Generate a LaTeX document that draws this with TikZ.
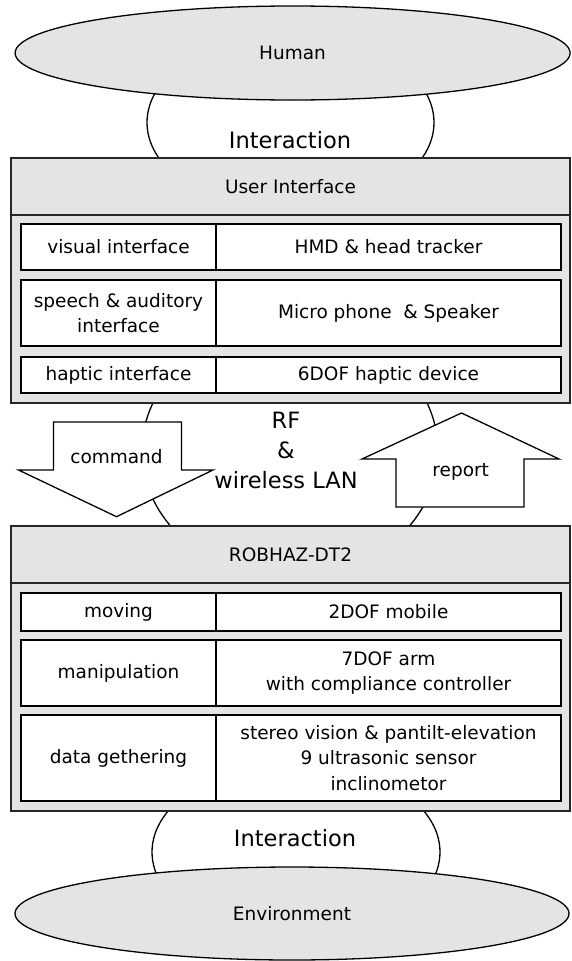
\documentclass[tikz,border=0pt]{standalone}
\usepackage{fontspec}
\setmainfont{DejaVu Sans}
\usetikzlibrary{shapes.geometric,positioning}

\definecolor{panelgray}{RGB}{228,228,228}
\newcommand{\smalltxt}{\fontsize{18.5}{25.5}\selectfont}
\newcommand{\bigtxt}{\fontsize{22.5}{30}\selectfont}

\tikzset{
	ring/.style={ellipse, draw=black, line width=1.3pt, fill=white, inner sep=0pt},
	blob/.style={ellipse, draw=black, line width=1.3pt, fill=panelgray, font=\smalltxt},
	panel/.style={rectangle, draw=black!85, line width=1.4pt, fill=panelgray, anchor=north west,
		minimum width=559pt, inner sep=0pt, outer sep=0pt, font=\smalltxt},
	cell/.style={rectangle, draw=black, line width=1.8pt, fill=white, align=center,
		inner sep=0pt, outer sep=0pt, font=\smalltxt},
	leftcell/.style={cell, minimum width=195pt},
	rightcell/.style={cell, minimum width=345pt, anchor=west},
	bigarrow/.style={draw=black, line width=1.3pt, fill=white, line join=miter},
}

\begin{document}
\begin{tikzpicture}[x=1pt, y=-1pt]
	\useasboundingbox (0,0) rectangle (571,961);

	% links behind the blocks
	\node[ring, minimum width=296pt, minimum height=254pt] (link) at (290,451) {};
	\node[ring, minimum width=287pt, minimum height=178pt] (toplink) at (290.5,122.5) {};
	\node[ring, minimum width=288pt, minimum height=178pt] (botlink) at (296,852) {};

	\node[blob, minimum width=555pt, minimum height=94pt] (human) at (292.6,53) {Human};
	\node[blob, minimum width=554pt, minimum height=93pt] (env) at (292,913.5) {Environment};

	% user interface
	\node[panel, minimum height=57pt] (uihead) at (11,158) {User Interface};
	\node[panel, minimum height=188pt] (uibody) at (11,215) {};

	\node[leftcell, minimum height=46pt, anchor=north west] (visual) at (21,224) {visual interface};
	\node[rightcell, minimum height=46pt] (hmd) at (visual.east) {HMD \& head tracker};
	\node[leftcell, minimum height=66pt, below=10pt of visual] (speech) {speech \& auditory\\interface};
	\node[rightcell, minimum height=66pt] (mic) at (speech.east) {Micro phone~ \& Speaker};
	\node[leftcell, minimum height=36pt, below=11pt of speech] (haptic) {haptic interface};
	\node[rightcell, minimum height=36pt] (device) at (haptic.east) {6DOF haptic device};

	% robot
	\node[panel, minimum height=57pt] (robhead) at (11,526) {ROBHAZ-DT2};
	\node[panel, minimum height=228pt] (robbody) at (11,583) {};

	\node[leftcell, minimum height=38pt, anchor=north west] (moving) at (21,593) {moving};
	\node[rightcell, minimum height=38pt] (mobile) at (moving.east) {2DOF mobile};
	\node[leftcell, minimum height=66pt, below=9pt of moving] (manip) {manipulation};
	\node[rightcell, minimum height=66pt] (arm) at (manip.east) {7DOF arm\\with compliance controller};
	\node[leftcell, minimum height=86pt, below=9pt of manip] (data) {data gethering};
	\node[rightcell, minimum height=86pt] (sensor) at (data.east)
		{stereo vision \& pantilt-elevation\\9 ultrasonic sensor\\inclinometor};

	% command / report
	\draw[bigarrow] (53.5,422) -- (181.5,422) -- (181.5,470) -- (213,470) -- (116.5,516.7)
		-- (18.5,470) -- (53.5,470) -- cycle;
	\draw[bigarrow] (396,507) -- (524,507) -- (524,459) -- (559,459) -- (461.5,413)
		-- (362,459) -- (396,459) -- cycle;
	\node[font=\smalltxt] (command) at (116.5,457) {command};
	\node[font=\smalltxt] (report) at (460.7,472) {report};

	\node[font=\bigtxt, align=center] (rf) at (286,450) {RF\\\&\\wireless LAN};
	\node[font=\bigtxt] (topact) at (290,140) {Interaction};
	\node[font=\bigtxt] (botact) at (295,838) {Interaction};
\end{tikzpicture}
\end{document}
